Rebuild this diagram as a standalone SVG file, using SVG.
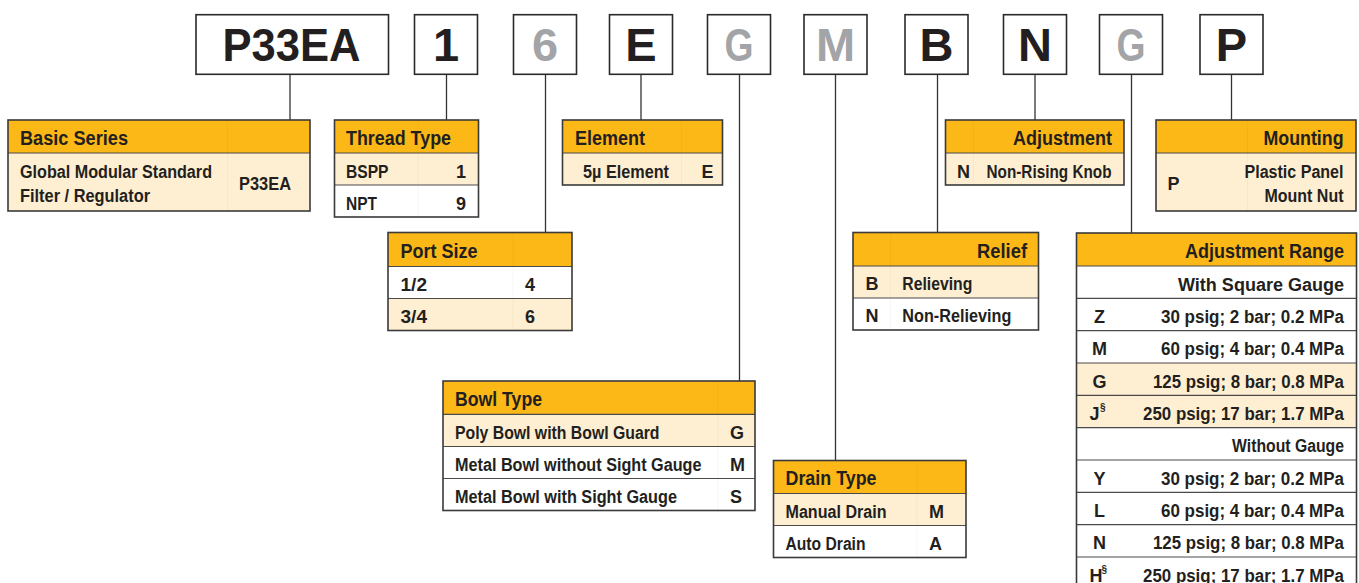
<svg xmlns="http://www.w3.org/2000/svg" width="1359" height="583" viewBox="0 0 1359 583">
<style>
.hd{fill:#FCB816}
.cr{fill:#FFEFD2}
.wh{fill:#FFFFFF}
.frame{fill:none;stroke:#3a3a3a;stroke-width:1.6}
.sep{stroke:#4a4a4a;stroke-width:1.2}
.col{stroke:#000;stroke-opacity:0.03;stroke-width:1}
.cbox{fill:#fff;stroke:#2a2a2a;stroke-width:1.6}
.conn line{stroke:#333;stroke-width:1.3}
text{font-family:"Liberation Sans",Arial,Helvetica,sans-serif;font-weight:bold;fill:#231F20}
.h{font-size:19.5px}
.b{font-size:18px}
.big{font-size:47px;text-anchor:middle}
.gray{fill:#A2A4A7}
.e{text-anchor:end}
.m{text-anchor:middle}
.sup{font-size:10px}
</style>

<g id="connectors" class="conn">
<line x1="290" y1="74" x2="290" y2="120"/>
<line x1="446.5" y1="74" x2="446.5" y2="120"/>
<line x1="545.5" y1="74" x2="545.5" y2="232.5"/>
<line x1="641" y1="74" x2="641" y2="120"/>
<line x1="739.5" y1="74" x2="739.5" y2="381"/>
<line x1="835.5" y1="74" x2="835.5" y2="460.5"/>
<line x1="937.5" y1="74" x2="937.5" y2="232.5"/>
<line x1="1035" y1="74" x2="1035" y2="120"/>
<line x1="1131.5" y1="74" x2="1131.5" y2="233"/>
<line x1="1231.5" y1="74" x2="1231.5" y2="120"/>
</g>

<g id="code-boxes">
<g id="code-P33EA"><rect class="cbox" x="196" y="14.7" width="192.5" height="59.6"/><text class="big" x="291.5" y="60.7" textLength="138" lengthAdjust="spacingAndGlyphs">P33EA</text></g>
<g id="code-1"><rect class="cbox" x="414.5" y="14.7" width="63" height="59.6"/><text class="big" x="446" y="60.7">1</text></g>
<g id="code-6"><rect class="cbox" x="513.5" y="14.7" width="63" height="59.6"/><text class="big gray" x="545" y="60.7">6</text></g>
<g id="code-E"><rect class="cbox" x="609.5" y="14.7" width="63" height="59.6"/><text class="big" x="641" y="60.7">E</text></g>
<g id="code-G1"><rect class="cbox" x="707.5" y="14.7" width="63" height="59.6"/><text class="big gray" x="739" y="60.7" textLength="29" lengthAdjust="spacingAndGlyphs">G</text></g>
<g id="code-M"><rect class="cbox" x="804" y="14.7" width="63" height="59.6"/><text class="big gray" x="835.5" y="60.7">M</text></g>
<g id="code-B"><rect class="cbox" x="905" y="14.7" width="63" height="59.6"/><text class="big" x="936.5" y="60.7">B</text></g>
<g id="code-N"><rect class="cbox" x="1003.5" y="14.7" width="63" height="59.6"/><text class="big" x="1035" y="60.7">N</text></g>
<g id="code-G2"><rect class="cbox" x="1099.5" y="14.7" width="63" height="59.6"/><text class="big gray" x="1131" y="60.7" textLength="29" lengthAdjust="spacingAndGlyphs">G</text></g>
<g id="code-P"><rect class="cbox" x="1200" y="14.7" width="63" height="59.6"/><text class="big" x="1231.5" y="60.7">P</text></g>
</g>

<g id="basic-series">
<rect class="hd" x="8" y="120" width="302" height="33"/>
<rect class="cr" x="8" y="153" width="302" height="58"/>
<line class="col" x1="227.5" y1="120" x2="227.5" y2="211"/>
<line class="sep" x1="8" y1="153" x2="310" y2="153"/>
<rect class="frame" x="8" y="120" width="302" height="91"/>
<text class="h" x="20" y="144.5" textLength="108" lengthAdjust="spacingAndGlyphs">Basic Series</text>
<text class="b" x="20" y="178" textLength="192" lengthAdjust="spacingAndGlyphs">Global Modular Standard</text>
<text class="b" x="20" y="202" textLength="130" lengthAdjust="spacingAndGlyphs">Filter / Regulator</text>
<text class="b" x="239" y="190" textLength="52" lengthAdjust="spacingAndGlyphs">P33EA</text>
</g>

<g id="thread-type">
<rect class="hd" x="334.5" y="120" width="144" height="33"/>
<rect class="cr" x="334.5" y="153" width="144" height="32"/>
<rect class="wh" x="334.5" y="185" width="144" height="32"/>
<line class="col" x1="418" y1="120" x2="418" y2="217"/>
<line class="sep" x1="334.5" y1="153" x2="478.5" y2="153"/>
<line class="sep" x1="334.5" y1="185" x2="478.5" y2="185"/>
<rect class="frame" x="334.5" y="120" width="144" height="97"/>
<text class="h" x="346" y="144.5" textLength="105" lengthAdjust="spacingAndGlyphs">Thread Type</text>
<text class="b" x="346" y="177.5" textLength="42.5" lengthAdjust="spacingAndGlyphs">BSPP</text>
<text class="b e" x="466" y="177.5">1</text>
<text class="b" x="346" y="209.5" textLength="31" lengthAdjust="spacingAndGlyphs">NPT</text>
<text class="b e" x="466" y="209.5">9</text>
</g>

<g id="element">
<rect class="hd" x="562.5" y="120" width="160" height="33"/>
<rect class="cr" x="562.5" y="153" width="160" height="32"/>
<line class="col" x1="681.5" y1="120" x2="681.5" y2="185"/>
<line class="sep" x1="562.5" y1="153" x2="722.5" y2="153"/>
<rect class="frame" x="562.5" y="120" width="160" height="65"/>
<text class="h" x="575" y="144.5" textLength="70" lengthAdjust="spacingAndGlyphs">Element</text>
<text class="b" x="583" y="177.5" textLength="86" lengthAdjust="spacingAndGlyphs">5µ Element</text>
<text class="b" x="701.5" y="177.5">E</text>
</g>

<g id="adjustment">
<rect class="hd" x="945.5" y="120" width="178.5" height="33"/>
<rect class="cr" x="945.5" y="153" width="178.5" height="32"/>
<line class="col" x1="973.5" y1="120" x2="973.5" y2="185"/>
<line class="sep" x1="945.5" y1="153" x2="1124" y2="153"/>
<rect class="frame" x="945.5" y="120" width="178.5" height="65"/>
<text class="h e" x="1112" y="144.5" textLength="99" lengthAdjust="spacingAndGlyphs">Adjustment</text>
<text class="b" x="957" y="177.5">N</text>
<text class="b" x="986.5" y="177.5" textLength="125" lengthAdjust="spacingAndGlyphs">Non-Rising Knob</text>
</g>

<g id="mounting">
<rect class="hd" x="1156" y="120" width="200" height="33"/>
<rect class="cr" x="1156" y="153" width="200" height="58"/>
<line class="col" x1="1247.5" y1="120" x2="1247.5" y2="211"/>
<line class="sep" x1="1156" y1="153" x2="1356" y2="153"/>
<rect class="frame" x="1156" y="120" width="200" height="91"/>
<text class="h e" x="1343.5" y="144.5" textLength="80" lengthAdjust="spacingAndGlyphs">Mounting</text>
<text class="b" x="1167.5" y="190">P</text>
<text class="b e" x="1343.5" y="178" textLength="99" lengthAdjust="spacingAndGlyphs">Plastic Panel</text>
<text class="b e" x="1343.5" y="202" textLength="79" lengthAdjust="spacingAndGlyphs">Mount Nut</text>
</g>

<g id="port-size">
<rect class="hd" x="388" y="232.5" width="184" height="34"/>
<rect class="wh" x="388" y="266.5" width="184" height="32"/>
<rect class="cr" x="388" y="298.5" width="184" height="32"/>
<line class="col" x1="513" y1="232.5" x2="513" y2="330.5"/>
<line class="sep" x1="388" y1="266.5" x2="572" y2="266.5"/>
<line class="sep" x1="388" y1="298.5" x2="572" y2="298.5"/>
<rect class="frame" x="388" y="232.5" width="184" height="98"/>
<text class="h" x="400.5" y="257.5" textLength="77" lengthAdjust="spacingAndGlyphs">Port Size</text>
<text class="b" x="400.5" y="290.5" textLength="26.5" lengthAdjust="spacingAndGlyphs">1/2</text>
<text class="b" x="525" y="290.5">4</text>
<text class="b" x="400.5" y="322.5" textLength="26.5" lengthAdjust="spacingAndGlyphs">3/4</text>
<text class="b" x="525" y="322.5">6</text>
</g>

<g id="relief">
<rect class="hd" x="853" y="232.5" width="185.5" height="33.5"/>
<rect class="cr" x="853" y="266" width="185.5" height="32"/>
<rect class="wh" x="853" y="298" width="185.5" height="32"/>
<line class="col" x1="890.5" y1="232.5" x2="890.5" y2="330"/>
<line class="sep" x1="853" y1="266" x2="1038.5" y2="266"/>
<line class="sep" x1="853" y1="298" x2="1038.5" y2="298"/>
<rect class="frame" x="853" y="232.5" width="185.5" height="97.5"/>
<text class="h e" x="1027" y="257.5" textLength="50" lengthAdjust="spacingAndGlyphs">Relief</text>
<text class="b" x="865.5" y="290">B</text>
<text class="b" x="902.3" y="290" textLength="70" lengthAdjust="spacingAndGlyphs">Relieving</text>
<text class="b" x="865.5" y="322">N</text>
<text class="b" x="902.3" y="322" textLength="109" lengthAdjust="spacingAndGlyphs">Non-Relieving</text>
</g>

<g id="adjustment-range">
<rect class="hd" x="1076.5" y="233" width="280" height="33"/>
<rect class="wh" x="1076.5" y="266" width="280" height="97"/>
<rect class="cr" x="1076.5" y="363" width="280" height="64.6"/>
<rect class="wh" x="1076.5" y="427.6" width="280" height="165"/>
<g class="sep">
<line x1="1076.5" y1="266" x2="1356.5" y2="266"/>
<line x1="1076.5" y1="298.3" x2="1356.5" y2="298.3"/>
<line x1="1076.5" y1="330.6" x2="1356.5" y2="330.6"/>
<line x1="1076.5" y1="363" x2="1356.5" y2="363"/>
<line x1="1076.5" y1="395.3" x2="1356.5" y2="395.3"/>
<line x1="1076.5" y1="427.6" x2="1356.5" y2="427.6"/>
<line x1="1076.5" y1="460" x2="1356.5" y2="460"/>
<line x1="1076.5" y1="492.3" x2="1356.5" y2="492.3"/>
<line x1="1076.5" y1="524.6" x2="1356.5" y2="524.6"/>
<line x1="1076.5" y1="557" x2="1356.5" y2="557"/>
</g>
<rect class="frame" x="1076.5" y="233" width="280" height="360"/>
<text class="h e" x="1344" y="257.5" textLength="159" lengthAdjust="spacingAndGlyphs">Adjustment Range</text>
<text class="b e" x="1344" y="290.5" textLength="166" lengthAdjust="spacingAndGlyphs">With Square Gauge</text>
<text class="b m" x="1099.5" y="322.8">Z</text>
<text class="b e" x="1344" y="322.8" textLength="183" lengthAdjust="spacingAndGlyphs">30 psig; 2 bar; 0.2 MPa</text>
<text class="b m" x="1099.5" y="355.1">M</text>
<text class="b e" x="1344" y="355.1" textLength="183" lengthAdjust="spacingAndGlyphs">60 psig; 4 bar; 0.4 MPa</text>
<text class="b m" x="1099.5" y="387.5">G</text>
<text class="b e" x="1344" y="387.5" textLength="191" lengthAdjust="spacingAndGlyphs">125 psig; 8 bar; 0.8 MPa</text>
<text class="b" x="1089.5" y="419.8">J</text><text class="sup" x="1100" y="411">§</text>
<text class="b e" x="1344" y="419.8" textLength="201" lengthAdjust="spacingAndGlyphs">250 psig; 17 bar; 1.7 MPa</text>
<text class="b e" x="1344" y="452.1" textLength="112" lengthAdjust="spacingAndGlyphs">Without Gauge</text>
<text class="b m" x="1099.5" y="484.5">Y</text>
<text class="b e" x="1344" y="484.5" textLength="183" lengthAdjust="spacingAndGlyphs">30 psig; 2 bar; 0.2 MPa</text>
<text class="b m" x="1099.5" y="516.8">L</text>
<text class="b e" x="1344" y="516.8" textLength="183" lengthAdjust="spacingAndGlyphs">60 psig; 4 bar; 0.4 MPa</text>
<text class="b m" x="1099.5" y="549.1">N</text>
<text class="b e" x="1344" y="549.1" textLength="191" lengthAdjust="spacingAndGlyphs">125 psig; 8 bar; 0.8 MPa</text>
<text class="b" x="1089.5" y="581.5">H</text><text class="sup" x="1101.5" y="573">§</text>
<text class="b e" x="1344" y="581.5" textLength="201" lengthAdjust="spacingAndGlyphs">250 psig; 17 bar; 1.7 MPa</text>
</g>

<g id="bowl-type">
<rect class="hd" x="443" y="381" width="312" height="33.3"/>
<rect class="cr" x="443" y="414.3" width="312" height="32.2"/>
<rect class="wh" x="443" y="446.5" width="312" height="64"/>
<line class="col" x1="718" y1="381" x2="718" y2="510.5"/>
<line class="sep" x1="443" y1="414.3" x2="755" y2="414.3"/>
<line class="sep" x1="443" y1="446.5" x2="755" y2="446.5"/>
<line class="sep" x1="443" y1="478.5" x2="755" y2="478.5"/>
<rect class="frame" x="443" y="381" width="312" height="129.5"/>
<text class="h" x="455" y="405.5" textLength="87" lengthAdjust="spacingAndGlyphs">Bowl Type</text>
<text class="b" x="455" y="438.5" textLength="204.5" lengthAdjust="spacingAndGlyphs">Poly Bowl with Bowl Guard</text>
<text class="b" x="730" y="438.5">G</text>
<text class="b" x="455" y="470.5" textLength="246.5" lengthAdjust="spacingAndGlyphs">Metal Bowl without Sight Gauge</text>
<text class="b" x="730" y="470.5">M</text>
<text class="b" x="455" y="502.5" textLength="222" lengthAdjust="spacingAndGlyphs">Metal Bowl with Sight Gauge</text>
<text class="b" x="730" y="502.5">S</text>
</g>

<g id="drain-type">
<rect class="hd" x="773.5" y="460.5" width="192.5" height="33"/>
<rect class="cr" x="773.5" y="493.5" width="192.5" height="32"/>
<rect class="wh" x="773.5" y="525.5" width="192.5" height="32"/>
<line class="col" x1="917" y1="460.5" x2="917" y2="557.5"/>
<line class="sep" x1="773.5" y1="493.5" x2="966" y2="493.5"/>
<line class="sep" x1="773.5" y1="525.5" x2="966" y2="525.5"/>
<rect class="frame" x="773.5" y="460.5" width="192.5" height="97"/>
<text class="h" x="785.5" y="485" textLength="91" lengthAdjust="spacingAndGlyphs">Drain Type</text>
<text class="b" x="785.5" y="517.5" textLength="101" lengthAdjust="spacingAndGlyphs">Manual Drain</text>
<text class="b" x="929" y="517.5">M</text>
<text class="b" x="785.5" y="549.5" textLength="80" lengthAdjust="spacingAndGlyphs">Auto Drain</text>
<text class="b" x="929" y="549.5">A</text>
</g>
</svg>
